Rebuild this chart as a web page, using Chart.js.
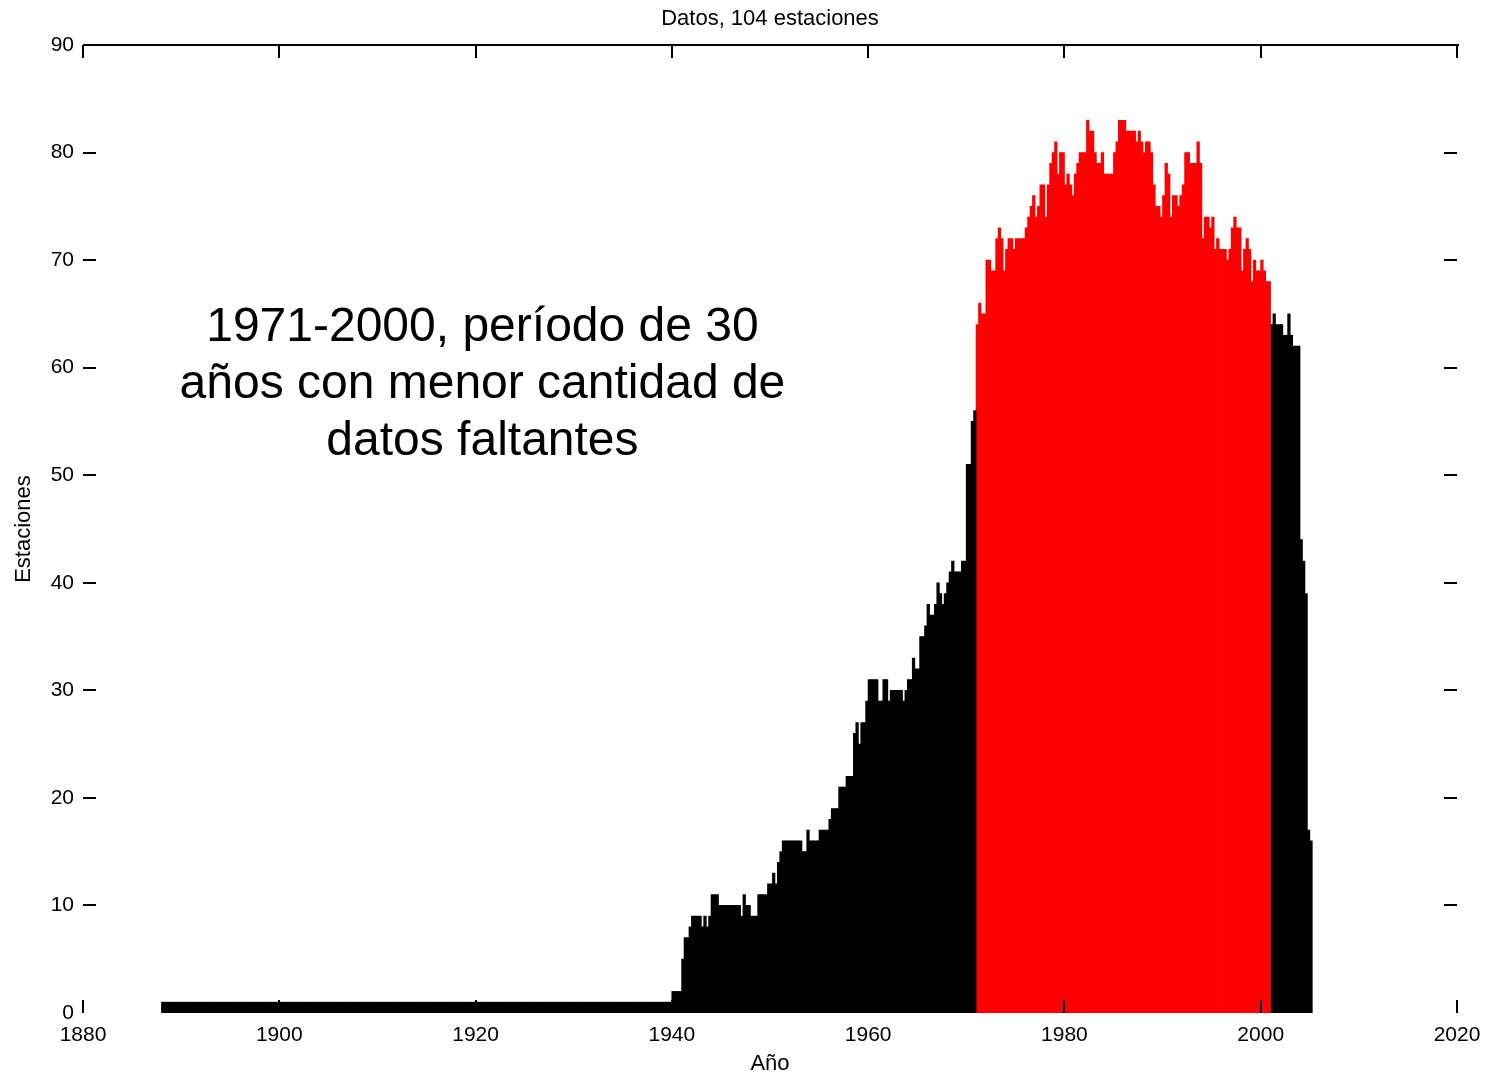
<!DOCTYPE html>
<html lang="es">
<head>
<meta charset="utf-8">
<title>Datos, 104 estaciones</title>
<script src="https://cdn.jsdelivr.net/npm/chart.js@4/dist/chart.umd.min.js"></script>
<style>
  html, body { margin: 0; padding: 0; background: #fff; }
  canvas { display: block; }
</style>
</head>
<body>
<canvas id="grafico" width="1487" height="1074"></canvas>
<script>
'use strict';

// Estaciones con datos, por trimestre (cada fila = un año, T1..T4)

// 1888-1970
const estacionesAntes = [
    1, 1, 1, 1, 1, 1, 1, 1, 1, 1, 1, 1, 1, 1, 1, 1,   // 1888-1891
    1, 1, 1, 1, 1, 1, 1, 1, 1, 1, 1, 1, 1, 1, 1, 1,   // 1892-1895
    1, 1, 1, 1, 1, 1, 1, 1, 1, 1, 1, 1, 1, 1, 1, 1,   // 1896-1899
    1, 1, 1, 1, 1, 1, 1, 1, 1, 1, 1, 1, 1, 1, 1, 1,   // 1900-1903
    1, 1, 1, 1, 1, 1, 1, 1, 1, 1, 1, 1, 1, 1, 1, 1,   // 1904-1907
    1, 1, 1, 1, 1, 1, 1, 1, 1, 1, 1, 1, 1, 1, 1, 1,   // 1908-1911
    1, 1, 1, 1, 1, 1, 1, 1, 1, 1, 1, 1, 1, 1, 1, 1,   // 1912-1915
    1, 1, 1, 1, 1, 1, 1, 1, 1, 1, 1, 1, 1, 1, 1, 1,   // 1916-1919
    1, 1, 1, 1, 1, 1, 1, 1, 1, 1, 1, 1, 1, 1, 1, 1,   // 1920-1923
    1, 1, 1, 1, 1, 1, 1, 1, 1, 1, 1, 1, 1, 1, 1, 1,   // 1924-1927
    1, 1, 1, 1, 1, 1, 1, 1, 1, 1, 1, 1, 1, 1, 1, 1,   // 1928-1931
    1, 1, 1, 1, 1, 1, 1, 1, 1, 1, 1, 1, 1, 1, 1, 1,   // 1932-1935
    1, 1, 1, 1, 1, 1, 1, 1, 1, 1, 1, 1, 1, 1, 1, 1,   // 1936-1939
    2, 2, 2, 2,
    5, 7, 7, 8,
    9, 9, 9, 9,
    8, 9, 8, 9,
    11, 11, 11, 10,
    10, 10, 10, 10,
    10, 10, 10, 10,
    9, 11, 10, 10,
    9, 9, 9, 11,
    11, 11, 11, 12,   // 1949
    12, 13, 12, 14,
    15, 16, 16, 16,
    16, 16, 16, 16,
    16, 15, 15, 17,
    16, 16, 16, 16,
    17, 17, 17, 17,
    18, 19, 19, 19,
    21, 21, 21, 22,
    22, 22, 26, 27,
    25, 27, 27, 29,   // 1959
    31, 31, 31, 31,
    29, 29, 31, 31,
    29, 30, 30, 30,
    30, 30, 29, 30,
    31, 31, 33, 32,
    32, 35, 35, 36,
    38, 37, 37, 38,
    40, 39, 38, 39,
    40, 41, 42, 41,
    41, 41, 42, 42,   // 1969
    51, 51, 55, 56
];

// 1971-2000, periodo de referencia
const estaciones7100 = [
    64, 66, 65, 65,
    70, 70, 69, 69,
    72, 73, 72, 69,
    71, 72, 72, 71,
    72, 72, 72, 72,   // 1975
    73, 74, 75, 76,
    74, 75, 77, 77,
    74, 77, 79, 80,
    81, 78, 80, 80,
    77, 78, 77, 76,   // 1980
    78, 79, 80, 80,
    80, 83, 82, 82,
    80, 79, 79, 80,
    78, 78, 78, 78,
    80, 81, 83, 83,   // 1985
    83, 82, 82, 82,
    82, 81, 82, 81,
    80, 81, 81, 80,
    77, 75, 75, 74,
    76, 79, 78, 74,   // 1990
    76, 76, 75, 76,
    77, 80, 80, 79,
    79, 79, 81, 79,
    72, 74, 74, 73,
    74, 71, 72, 71,   // 1995
    71, 71, 70, 71,
    73, 74, 73, 73,
    69, 71, 72, 71,
    68, 70, 69, 69,
    70, 69, 68, 68    // 2000
];

// 2001-2005
const estacionesDespues = [
    64, 65, 64, 64,
    64, 63, 63, 65,
    63, 62, 62, 62,
    44, 42, 39, 17,
    16
];

const tickAnios = [1880, 1900, 1920, 1940, 1960, 1980, 2000, 2020];
const tickEstaciones = [0, 10, 20, 30, 40, 50, 60, 70, 80, 90];

const notaLineas = [
    '1971-2000, período de 30',
    'años con menor cantidad de',
    'datos faltantes'
];
const notaCentro = { anio: 1920.7, valor: 58.4 };

// un punto por trimestre, centrado en su intervalo
function serie(anioInicial, valores) {
    return valores.map((v, i) => ({ x: anioInicial + i * 0.25 + 0.125, y: v }));
}

Chart.defaults.font.family = '"Liberation Sans", Arial, Helvetica, sans-serif';
Chart.defaults.color = '#000';

// marco superior y marcas hacia dentro en los cuatro lados
const marcas = {
    id: 'marcas',
    afterDraw(chart) {
        const { ctx, chartArea: a, scales: { x, y } } = chart;
        const largo = 13;
        ctx.save();
        ctx.strokeStyle = '#000';
        ctx.lineWidth = 2;
        ctx.beginPath();
        ctx.moveTo(a.left, a.top);
        ctx.lineTo(a.right + 2, a.top);
        tickAnios.forEach(v => {
            const px = Math.round(x.getPixelForValue(v));
            ctx.moveTo(px, a.top);
            ctx.lineTo(px, a.top + largo);
            ctx.moveTo(px, a.bottom);
            ctx.lineTo(px, a.bottom - largo);
        });
        tickEstaciones.slice(1, -1).forEach(v => {
            const py = Math.round(y.getPixelForValue(v));
            ctx.moveTo(a.left, py);
            ctx.lineTo(a.left + largo, py);
            ctx.moveTo(a.right, py);
            ctx.lineTo(a.right - largo, py);
        });
        ctx.stroke();
        ctx.restore();
    }
};

// texto explicativo dentro del área del gráfico
const nota = {
    id: 'nota',
    afterDraw(chart) {
        const { ctx, scales: { x, y } } = chart;
        const cx = x.getPixelForValue(notaCentro.anio);
        const cy = y.getPixelForValue(notaCentro.valor);
        ctx.save();
        ctx.fillStyle = '#000';
        ctx.font = '48px "Liberation Sans", Arial, sans-serif';
        ctx.textAlign = 'center';
        ctx.textBaseline = 'middle';
        notaLineas.forEach((t, i) => ctx.fillText(t, cx, cy + (i - 1) * 57));
        ctx.restore();
    }
};

new Chart(document.getElementById('grafico'), {
    type: 'bar',
    data: {
        datasets: [
            { label: 'Estaciones', data: serie(1888, estacionesAntes), backgroundColor: '#000000' },
            { label: 'Estaciones 1971-2000', data: serie(1971, estaciones7100), backgroundColor: '#ff0000' },
            { label: 'Estaciones', data: serie(2001, estacionesDespues), backgroundColor: '#000000' }
        ]
    },
    options: {
        responsive: false,
        animation: false,
        layout: { padding: { left: 0, right: 30, top: 0, bottom: 0 } },
        datasets: {
            bar: {
                xAxisID: 'x',
                yAxisID: 'y',
                grouped: false,
                barPercentage: 1,
                categoryPercentage: 1,
                borderWidth: 0,
                inflateAmount: 0.4
            }
        },
        plugins: {
            legend: { display: false },
            tooltip: { enabled: false }
        },
        scales: {
            x: {
                type: 'linear',
                min: 1880,
                max: 2020,
                offset: false,
                grid: { display: false },
                border: { display: false },
                afterBuildTicks: s => { s.ticks = tickAnios.map(v => ({ value: v })); },
                afterFit: s => { s.height = 61; },
                ticks: {
                    font: { size: 21 },
                    padding: 2,
                    maxRotation: 0,
                    autoSkip: false,
                    callback: v => String(v)
                },
                title: {
                    display: true,
                    text: 'Año',
                    font: { size: 22, lineHeight: 0.9 },
                    padding: { top: 0, bottom: 0 }
                }
            },
            // eje superior: sólo lleva el título, centrado sobre el área del gráfico
            arriba: {
                type: 'linear',
                position: 'top',
                min: 1880,
                max: 2020,
                offset: false,
                grid: { display: false },
                border: { display: false },
                ticks: { display: false },
                afterFit: s => { s.height = 45; },
                title: {
                    display: true,
                    text: 'Datos, 104 estaciones',
                    font: { size: 22 },
                    padding: { top: 6, bottom: 0 }
                }
            },
            y: {
                min: 0,
                max: 90,
                grid: { display: false },
                border: { display: false },
                afterBuildTicks: s => { s.ticks = tickEstaciones.map(v => ({ value: v })); },
                afterFit: s => { s.width = 83; },
                ticks: {
                    font: { size: 21 },
                    padding: 1,
                    autoSkip: false
                },
                title: {
                    display: true,
                    text: 'Estaciones',
                    font: { size: 22 },
                    padding: { top: 11, bottom: 0 }
                }
            }
        }
    },
    plugins: [marcas, nota]
});
</script>
</body>
</html>
